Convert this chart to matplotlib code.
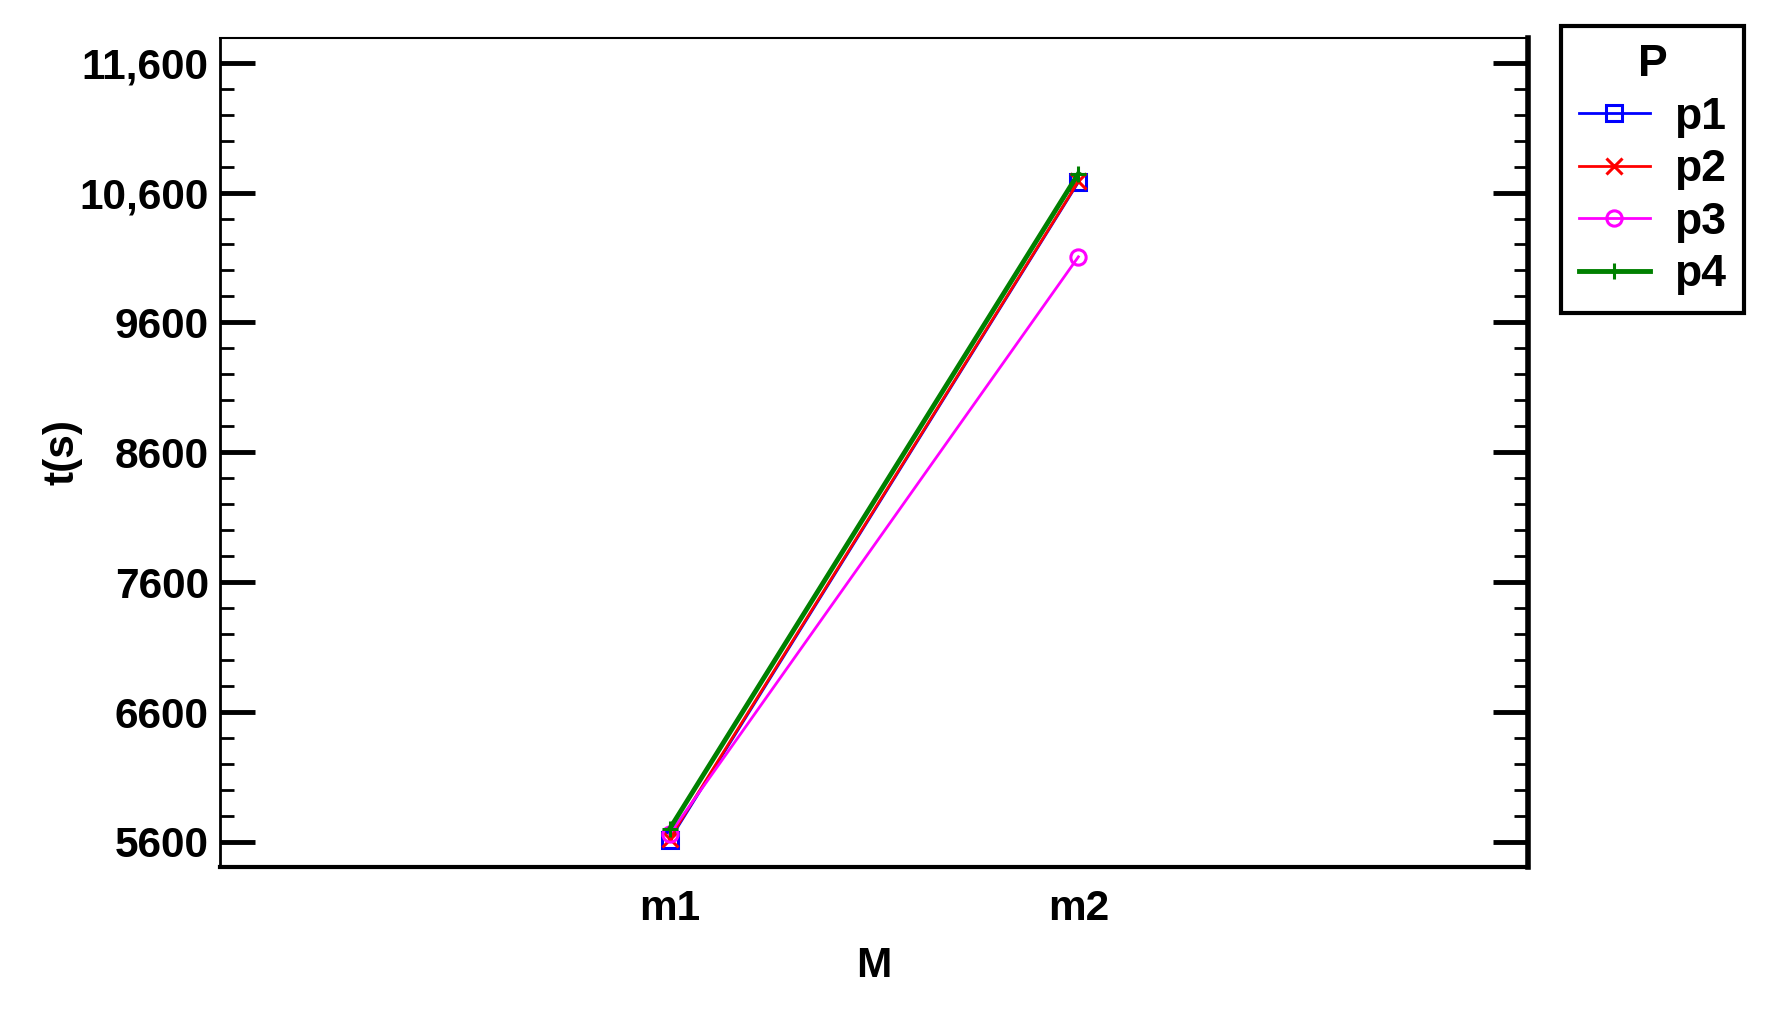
import matplotlib
matplotlib.use('Agg')
import matplotlib.pyplot as plt
import numpy as np

plt.rcParams['font.family'] = ['Liberation Sans', 'DejaVu Sans']
plt.rcParams['font.weight'] = 'bold'

# data
levels = ['m1', 'm2']
series = ['p1', 'p2', 'p3', 'p4']
p1 = [5615, 10680]
p2 = [5625, 10685]
p3 = [5660, 10105]
p4 = [5700, 10745]
values = [p1, p2, p3, p4]

colors = ['blue', 'red', 'magenta', 'green']
markers = ['s', 'x', 'o', '+']
widths = [2.0, 2.0, 2.0, 3.5]

yticks = [5600, 6600, 7600, 8600, 9600, 10600, 11600]
yticklabels = ['5600', '6600', '7600', '8600', '9600', '10,600', '11,600']

fig = plt.figure(figsize=(17.84, 10.15), dpi=100)
ax = fig.add_axes([0.1233, 0.1458, 0.7332, 0.8168])

x = np.arange(1, len(levels) + 1)
for name, vals, c, m, lw in zip(series, values, colors, markers, widths):
    ax.plot(x, vals, color=c, marker=m, lw=lw, ms=11, mew=2.2,
            mfc='none', label=name, clip_on=False)

ax.set_xlim(-0.1, 3.1)
ax.set_ylim(5407, 11790)
ax.set_xticks(x)
ax.set_xticklabels(levels)
ax.set_yticks(yticks)
ax.set_yticklabels(yticklabels)
ax.set_yticks(np.arange(5600, 11800, 200), minor=True)

ax.tick_params(axis='x', length=0, labelsize=30.5, pad=16)
ax.tick_params(axis='y', which='major', direction='in', length=25, width=3.5,
               labelsize=30.5, right=True, pad=8)
ax.tick_params(axis='y', which='minor', direction='in', length=10, width=2,
               right=True)

ax.spines['left'].set_linewidth(2)
ax.spines['top'].set_linewidth(1.5)
ax.spines['bottom'].set_linewidth(3)
ax.spines['right'].set_linewidth(4)

ax.set_xlabel('M', fontsize=30.5, fontweight='bold', labelpad=12)
ax.set_ylabel('t(s)', fontsize=30.5, fontweight='bold', labelpad=-2)

leg = fig.legend(loc='upper left', bbox_to_anchor=(0.875, 0.974), title='P',
                 fontsize=32, title_fontsize=32, frameon=True, fancybox=False,
                 edgecolor='black', framealpha=1, handlelength=1.6,
                 handletextpad=0.55, labelspacing=0.26, borderpad=0.4,
                 borderaxespad=0)
leg.get_frame().set_linewidth(3)
leg.get_title().set_fontweight('bold')

plt.savefig('out.png', dpi=100)
